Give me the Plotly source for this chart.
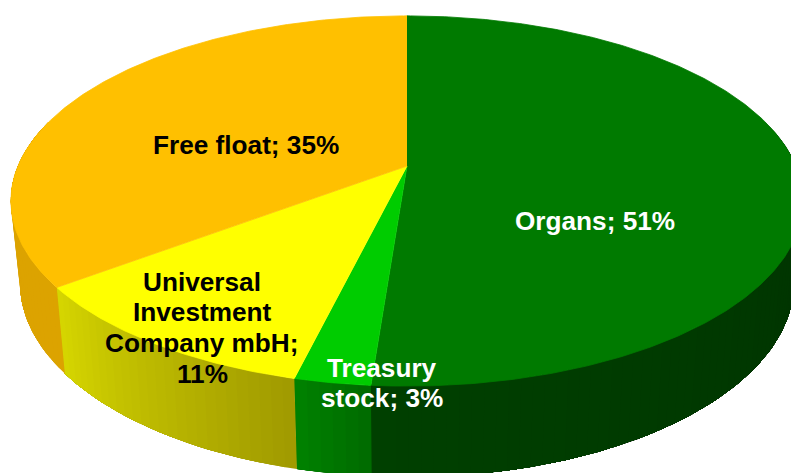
import numpy as np
import plotly.graph_objects as go

# Data (clockwise from 12 o'clock); shares read from the slice edges, labels show them rounded
labels = [["Organs; 51%"], ["Treasury", "stock; 3%"],
          ["Universal", "Investment", "Company mbH;", "11%"], ["Free float; 35%"]]
values = [51.2, 2.6, 10.9, 35.3]

# Styles
top_colors = ["#007A00", "#00CC00", "#FFFF00", "#FFC000"]
side_start = ["#003000", "#006A00", "#A09A00", "#DCA300"]   # clockwise start of each side face
side_end = ["#004000", "#008200", "#D6D600", "#DCA300"]
text_colors = ["white", "white", "black", "black"]
label_x = [595, 382, 202, 246]
label_y = [[221], [368, 398], [282, 312, 343, 374], [145]]
FONT_SIZE = 26.2

# Perspective projection of the pie disc onto the page
APEX_X, APEX_Y = 407, 166
A, B, K = 389.0, 178.5, 0.189
SIDE_SX, SIDE_SY, SIDE_Y = 0.977, 1.05, 246


def project(theta):
    u, v = np.sin(theta), np.cos(theta)
    w = 1 + K * v
    return A * u / w, -B * v / w


def top_xy(theta):
    dx, dy = project(theta)
    return APEX_X + dx, APEX_Y + dy


def bottom_xy(theta):
    dx, dy = project(theta)
    return APEX_X + SIDE_SX * dx, SIDE_Y + SIDE_SY * dy


def hex_rgb(c):
    return np.array([int(c[i:i + 2], 16) for i in (1, 3, 5)], dtype=float)


def mix(c1, c2, t):
    r = hex_rgb(c1) * (1 - t) + hex_rgb(c2) * t
    return "rgb(%d,%d,%d)" % tuple(np.round(r))


fractions = np.cumsum([0] + values) / sum(values)
edges = 2 * np.pi * fractions

fig = go.Figure()


def poly(x, y, color, lw=0.8):
    fig.add_trace(go.Scatter(x=x, y=y, mode="lines", fill="toself", fillcolor=color,
                             line=dict(color=color, width=lw), hoverinfo="skip",
                             showlegend=False))


# Side faces: each strip runs to the end of its slice and the next one paints over it,
# so no background shows through between strips
VIS_START, VIS_END = np.radians(75), np.radians(285)
for i in range(len(values)):
    a0, a1 = max(edges[i], VIS_START), min(edges[i + 1], VIS_END)
    if a1 <= a0:
        continue
    n = max(4, int((a1 - a0) / np.radians(1.5)))
    steps = np.linspace(a0, a1, n + 1)
    for j in range(n):
        th = np.linspace(steps[j], a1, max(4, n - j + 1))
        tx, ty = top_xy(th)
        bx, by = bottom_xy(th)
        poly(np.r_[tx, bx[::-1]], np.r_[ty, by[::-1]],
             mix(side_start[i], side_end[i], (j + 0.5) / n), lw=0)

# Top faces
for i in range(len(values)):
    th = np.linspace(edges[i], edges[i + 1], max(8, int(values[i] * 6)))
    tx, ty = top_xy(th)
    poly(np.r_[APEX_X, tx], np.r_[APEX_Y, ty], top_colors[i])

# Labels
for lines, xs, ys, col in zip(labels, label_x, label_y, text_colors):
    for line, y in zip(lines, ys):
        fig.add_annotation(x=xs, y=y, text=f"<b>{line}</b>", showarrow=False,
                           font=dict(family="Liberation Sans", size=FONT_SIZE, color=col),
                           xanchor="center", yanchor="middle")

fig.update_layout(width=791, height=473, margin=dict(l=0, r=0, t=0, b=0),
                  paper_bgcolor="white", plot_bgcolor="white", showlegend=False,
                  xaxis=dict(range=[0, 791], visible=False, fixedrange=True),
                  yaxis=dict(range=[473, 0], visible=False, fixedrange=True))
fig.write_html("out.html", config=dict(displayModeBar=False),
               post_script="document.body.style.margin='0';document.body.style.overflow='hidden';")
